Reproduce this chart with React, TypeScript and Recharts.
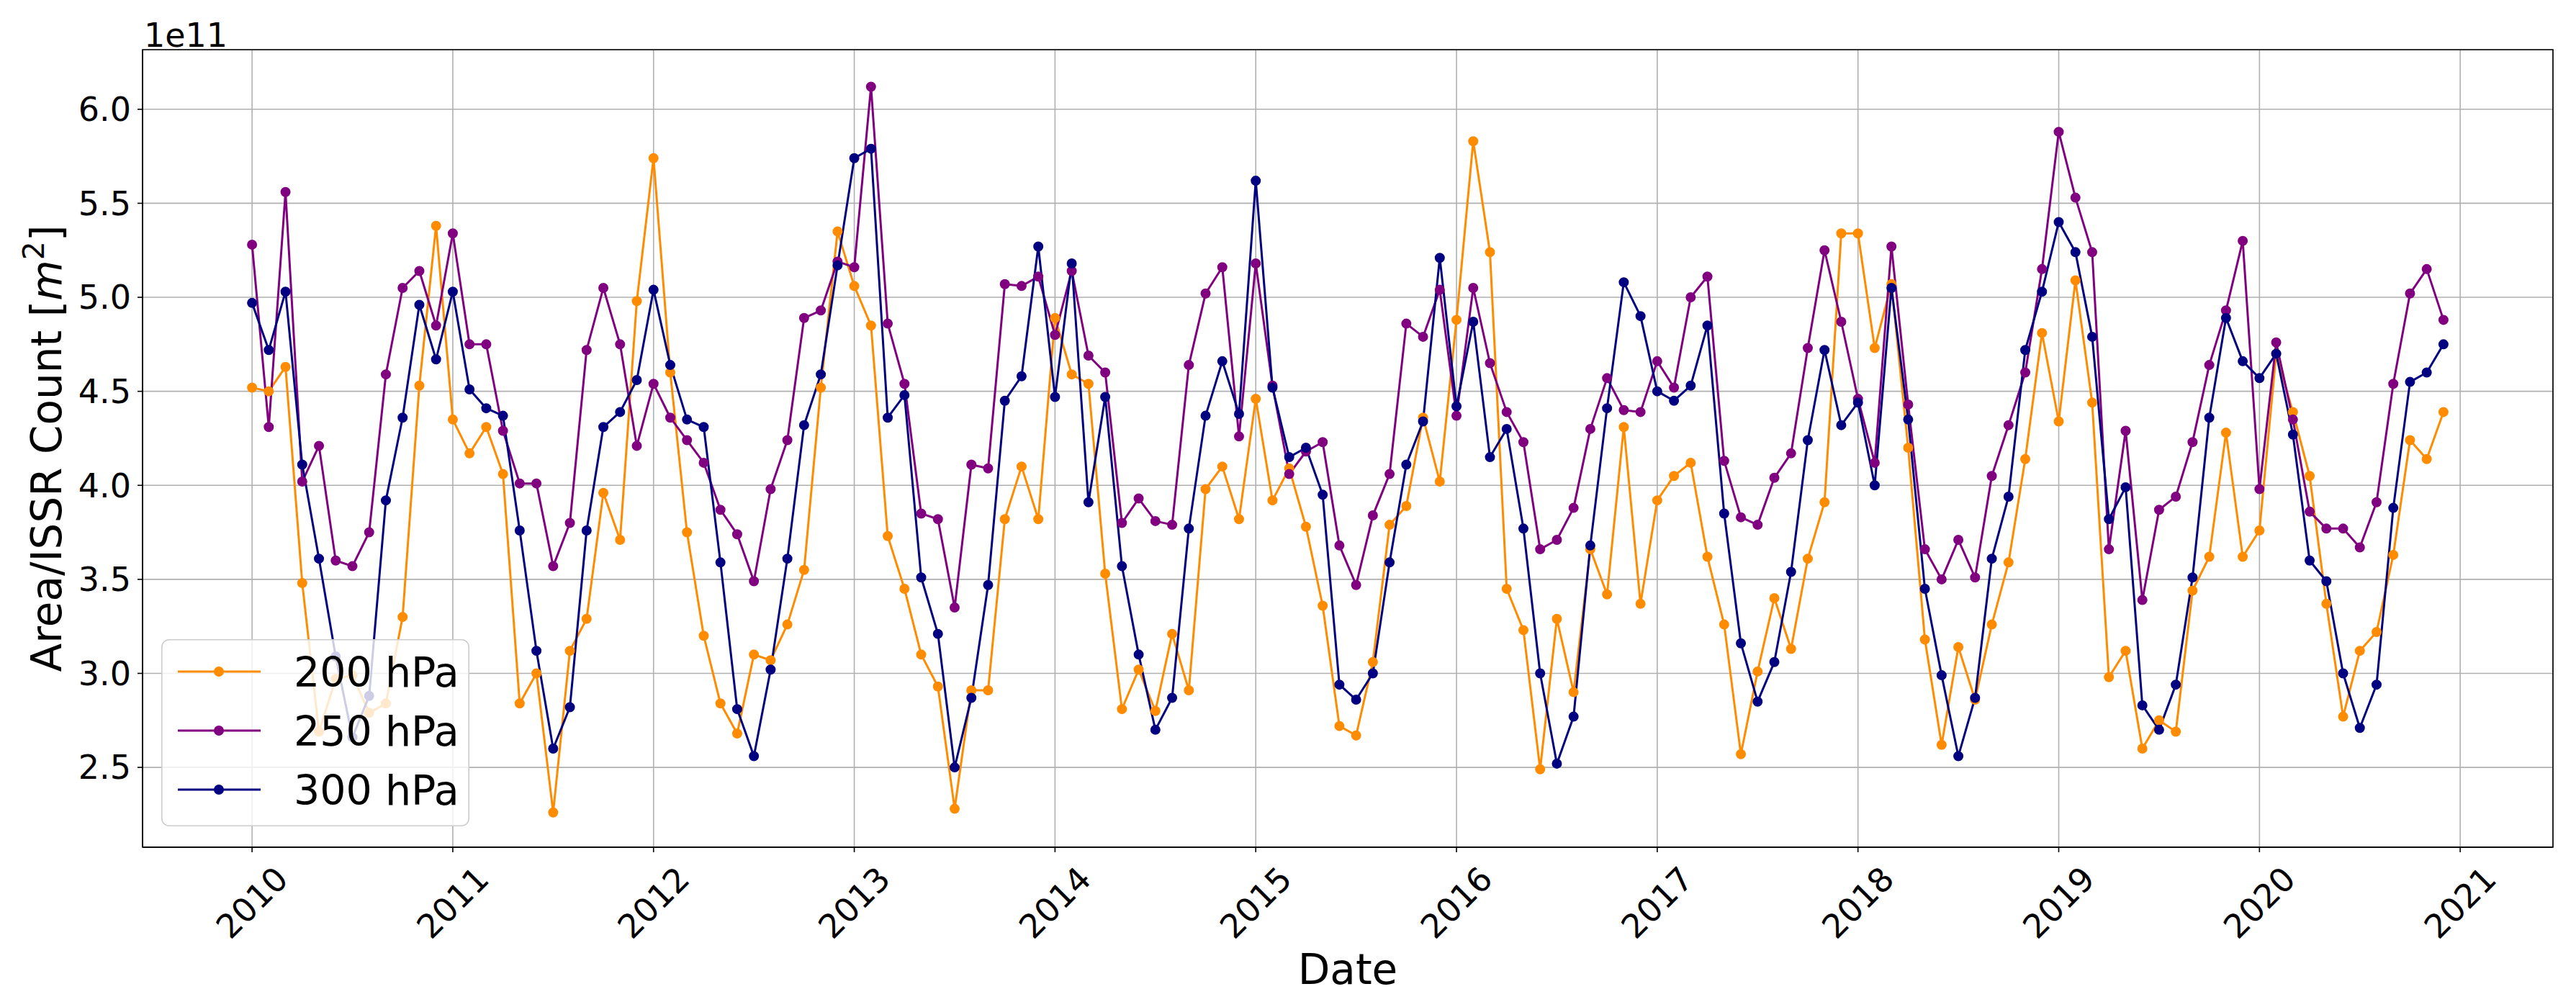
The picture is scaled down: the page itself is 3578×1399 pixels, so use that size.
import React from "react";
import {
  LineChart,
  Line,
  XAxis,
  YAxis,
  CartesianGrid,
  Legend,
  ReferenceArea,
} from "recharts";

// values in units of 1e11 m^2, one value per month, Jan 2010 .. Dec 2020
const YEARS = [2010, 2011, 2012, 2013, 2014, 2015, 2016, 2017, 2018, 2019, 2020];
const YEAR_TICKS = [2010, 2011, 2012, 2013, 2014, 2015, 2016, 2017, 2018, 2019, 2020, 2021];
const VALUE_TICKS = [2.5, 3.0, 3.5, 4.0, 4.5, 5.0, 5.5, 6.0];

const hPa200 = [
  4.52, 4.50, 4.63, 3.48, 2.69, 2.97, 2.99, 2.79, 2.84, 3.30, 4.53, 5.38,
  4.35, 4.17, 4.31, 4.06, 2.84, 3.00, 2.26, 3.12, 3.29, 3.96, 3.71, 4.98,
  5.74, 4.60, 3.75, 3.20, 2.84, 2.68, 3.10, 3.07, 3.26, 3.55, 4.52, 5.35,
  5.06, 4.85, 3.73, 3.45, 3.10, 2.93, 2.28, 2.91, 2.91, 3.82, 4.10, 3.82,
  4.89, 4.59, 4.54, 3.53, 2.81, 3.02, 2.80, 3.21, 2.91, 3.98, 4.10, 3.82,
  4.46, 3.92, 4.09, 3.78, 3.36, 2.72, 2.67, 3.06, 3.79, 3.89, 4.36, 4.02,
  4.88, 5.83, 5.24, 3.45, 3.23, 2.49, 3.29, 2.90, 3.66, 3.42, 4.31, 3.37,
  3.92, 4.05, 4.12, 3.62, 3.26, 2.57, 3.01, 3.40, 3.13, 3.61, 3.91, 5.34,
  5.34, 4.73, 5.07, 4.20, 3.18, 2.62, 3.14, 2.86, 3.26, 3.59, 4.14, 4.81,
  4.34, 5.09, 4.44, 2.98, 3.12, 2.60, 2.75, 2.69, 3.44, 3.62, 4.28, 3.62,
  3.76, 4.70, 4.39, 4.05, 3.37, 2.77, 3.12, 3.22, 3.63, 4.24, 4.14, 4.39,
];

const hPa250 = [
  5.28, 4.31, 5.56, 4.02, 4.21, 3.60, 3.57, 3.75, 4.59, 5.05, 5.14, 4.85,
  5.34, 4.75, 4.75, 4.29, 4.01, 4.01, 3.57, 3.80, 4.72, 5.05, 4.75, 4.21,
  4.54, 4.36, 4.24, 4.12, 3.87, 3.74, 3.49, 3.98, 4.24, 4.89, 4.93, 5.19,
  5.16, 6.12, 4.86, 4.54, 3.85, 3.82, 3.35, 4.11, 4.09, 5.07, 5.06, 5.11,
  4.80, 5.14, 4.69, 4.60, 3.80, 3.93, 3.81, 3.79, 4.64, 5.02, 5.16, 4.26,
  5.18, 4.53, 4.06, 4.18, 4.23, 3.68, 3.47, 3.84, 4.06, 4.86, 4.79, 5.04,
  4.37, 5.05, 4.65, 4.39, 4.23, 3.66, 3.71, 3.88, 4.30, 4.57, 4.40, 4.39,
  4.66, 4.52, 5.00, 5.11, 4.13, 3.83, 3.79, 4.04, 4.17, 4.73, 5.25, 4.87,
  4.46, 4.12, 5.27, 4.43, 3.66, 3.50, 3.71, 3.51, 4.05, 4.32, 4.60, 5.15,
  5.88, 5.53, 5.24, 3.66, 4.29, 3.39, 3.87, 3.94, 4.23, 4.64, 4.93, 5.30,
  3.98, 4.76, 4.35, 3.86, 3.77, 3.77, 3.67, 3.91, 4.54, 5.02, 5.15, 4.88,
];

const hPa300 = [
  4.97, 4.72, 5.03, 4.11, 3.61, 3.09, 2.66, 2.88, 3.92, 4.36, 4.96, 4.67,
  5.03, 4.51, 4.41, 4.37, 3.76, 3.12, 2.60, 2.82, 3.76, 4.31, 4.39, 4.56,
  5.04, 4.64, 4.35, 4.31, 3.59, 2.81, 2.56, 3.02, 3.61, 4.32, 4.59, 5.17,
  5.74, 5.79, 4.36, 4.48, 3.51, 3.21, 2.50, 2.87, 3.47, 4.45, 4.58, 5.27,
  4.47, 5.18, 3.91, 4.47, 3.57, 3.10, 2.70, 2.87, 3.77, 4.37, 4.66, 4.38,
  5.62, 4.52, 4.15, 4.20, 3.95, 2.94, 2.86, 3.00, 3.59, 4.11, 4.34, 5.21,
  4.42, 4.87, 4.15, 4.30, 3.77, 3.00, 2.52, 2.77, 3.68, 4.41, 5.08, 4.90,
  4.50, 4.45, 4.53, 4.85, 3.85, 3.16, 2.85, 3.06, 3.54, 4.24, 4.72, 4.32,
  4.44, 4.00, 5.05, 4.35, 3.45, 2.99, 2.56, 2.87, 3.61, 3.94, 4.72, 5.03,
  5.40, 5.24, 4.79, 3.82, 3.99, 2.83, 2.70, 2.94, 3.51, 4.36, 4.89, 4.66,
  4.57, 4.70, 4.27, 3.60, 3.49, 3.00, 2.71, 2.94, 3.88, 4.55, 4.60, 4.75,
];

const SERIES = [
  { key: "hPa200", name: "200 hPa", color: "#ff8c00" },
  { key: "hPa250", name: "250 hPa", color: "#800080" },
  { key: "hPa300", name: "300 hPa", color: "#000080" },
];

// monthly samples as decimal years
const data = hPa200.map((v, i) => ({
  t: YEARS[Math.floor(i / 12)] + (i % 12) / 12,
  hPa200: v,
  hPa250: hPa250[i],
  hPa300: hPa300[i],
}));

const W = 3578;
const H = 1399;
const FONT = "DejaVu Sans";
const TICK_FS = 46;
const LABEL_FS = 58;
const LEGEND_FS = 57;
const X_DOMAIN: [number, number] = [2009.4545, 2021.4621];
const Y_DOMAIN: [number, number] = [2.0755, 6.317];

const XTick = (props: any) => {
  const { x, y, payload } = props;
  const cy = y + 70;
  return (
    <text
      x={x}
      y={cy}
      textAnchor="middle"
      dominantBaseline="central"
      transform={`rotate(-45, ${x}, ${cy})`}
      fontSize={TICK_FS}
      fontFamily={FONT}
      fill="#000"
    >
      {payload.value}
    </text>
  );
};

const renderXLabel = () => (
  <text x={1872} y={1367} textAnchor="middle" fontSize={LABEL_FS} fontFamily={FONT} fill="#000">
    Date
  </text>
);

const renderYLabel = () => (
  <g>
    <text
      x={85}
      y={623}
      transform="rotate(-90, 85, 623)"
      textAnchor="middle"
      fontSize={LABEL_FS}
      fontFamily={FONT}
      fill="#000"
    >
      Area/ISSR Count [<tspan fontStyle="italic">m</tspan>
      <tspan dy={-24} fontSize={41}>2</tspan>
      <tspan dy={24}>]</tspan>
    </text>
    <text x={200} y={65} fontSize={TICK_FS} fontFamily={FONT} fill="#000">
      1e11
    </text>
  </g>
);

const LEG_W = 428;
const LEG_H = 260;

const renderLegend = (props: any) => (
  <svg width={LEG_W} height={LEG_H} style={{ display: "block" }}>
    <rect
      x={0.8}
      y={0.8}
      width={LEG_W - 1.6}
      height={LEG_H - 1.6}
      rx={10}
      fill="#ffffff"
      fillOpacity={0.8}
      stroke="#cccccc"
      strokeWidth={1.6}
    />
    {(props.payload || []).map((entry: any, i: number) => {
      const cy = 45 + i * 82;
      return (
        <g key={entry.value}>
          <line x1={23} x2={138} y1={cy} y2={cy} stroke={entry.color} strokeWidth={3} />
          <circle cx={80} cy={cy} r={6} fill={entry.color} stroke={entry.color} strokeWidth={2} />
          <text x={184} y={cy + 21} fontSize={LEGEND_FS} fontFamily={FONT} fill="#000">
            {entry.value}
          </text>
        </g>
      );
    })}
  </svg>
);

export default function App() {
  return (
    <div style={{ position: "absolute", left: 0, top: 0, width: W, height: H, background: "#fff" }}>
      <LineChart width={W} height={H} data={data} margin={{ top: 69, right: 32, bottom: 0, left: 0 }}>
        <CartesianGrid stroke="#b0b0b0" strokeWidth={1.6} />
        <XAxis
          dataKey="t"
          type="number"
          domain={X_DOMAIN}
          ticks={YEAR_TICKS}
          interval={0}
          allowDataOverflow
          height={222}
          tickSize={7}
          tickMargin={0}
          tick={<XTick />}
          tickLine={{ stroke: "#000", strokeWidth: 1.6 }}
          axisLine={{ stroke: "#000", strokeWidth: 1.6 }}
          label={renderXLabel}
        />
        <YAxis
          type="number"
          domain={Y_DOMAIN}
          ticks={VALUE_TICKS}
          interval={0}
          allowDataOverflow
          width={198}
          tickSize={7}
          tickMargin={9}
          tickFormatter={(v: number) => v.toFixed(1)}
          tick={{ fontSize: TICK_FS, fontFamily: FONT, fill: "#000" }}
          tickLine={{ stroke: "#000", strokeWidth: 1.6 }}
          axisLine={{ stroke: "#000", strokeWidth: 1.6 }}
          label={renderYLabel}
        />
        {SERIES.map((s) => (
          <Line
            key={s.key}
            dataKey={s.key}
            name={s.name}
            type="linear"
            stroke={s.color}
            strokeWidth={3}
            strokeLinejoin="round"
            dot={{ r: 6, fill: s.color, stroke: s.color, strokeWidth: 2 }}
            activeDot={false}
            isAnimationActive={false}
          />
        ))}
        <ReferenceArea
          x1={X_DOMAIN[0]}
          x2={X_DOMAIN[1]}
          y1={Y_DOMAIN[0]}
          y2={Y_DOMAIN[1]}
          fill="none"
          stroke="#000"
          strokeWidth={1.6}
          ifOverflow="visible"
        />
        <Legend
          layout="vertical"
          align="center"
          verticalAlign="middle"
          content={renderLegend}
          wrapperStyle={{ left: 224, top: 888, width: LEG_W, height: LEG_H }}
        />
      </LineChart>
    </div>
  );
}
